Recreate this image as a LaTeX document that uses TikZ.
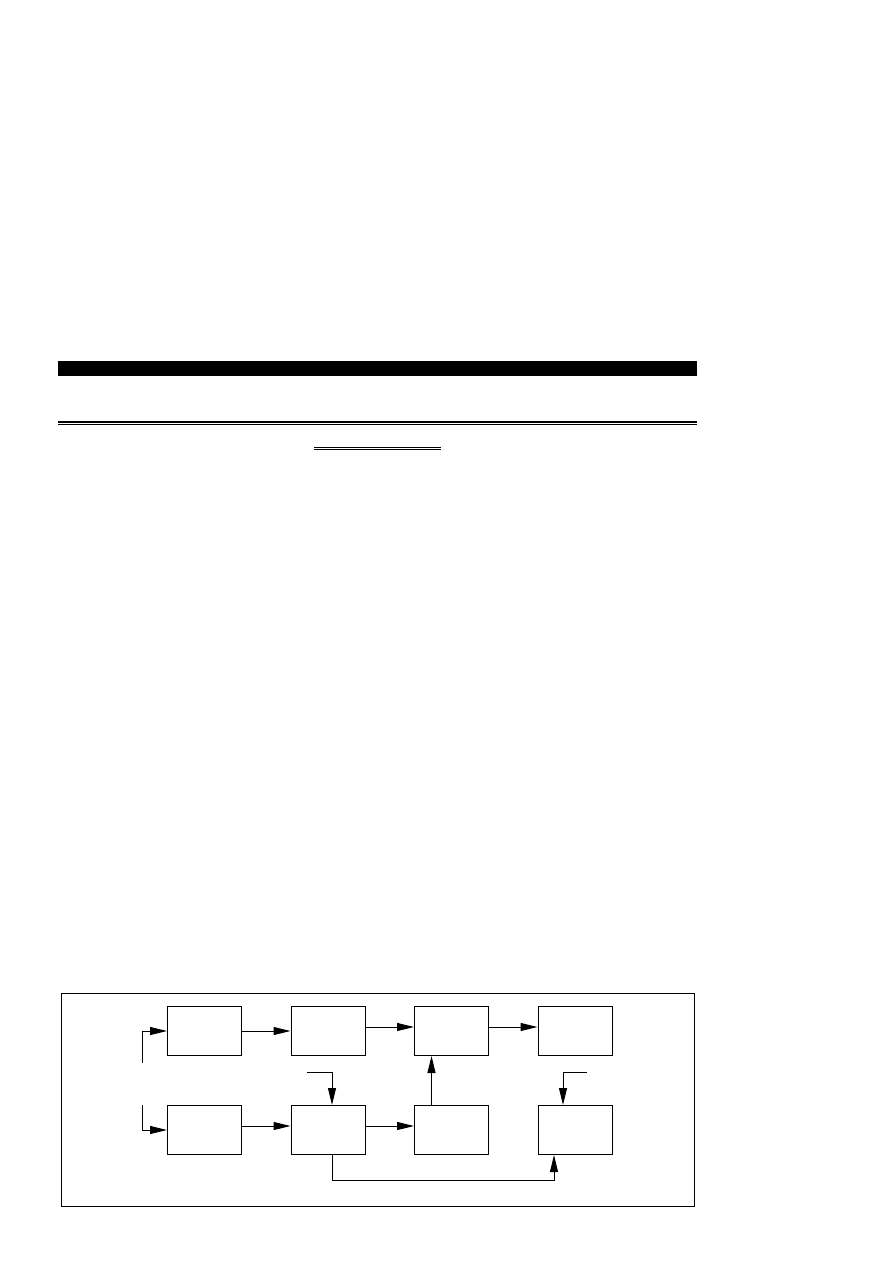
\documentclass[tikz,border=0pt]{standalone}
\usepackage{tikz}
\usetikzlibrary{arrows.meta}

\tikzset{
  blockbox/.style={draw, line width=1pt, minimum width=74pt, minimum height=49pt, inner sep=0pt},
  sig/.style={line width=1pt, -{Triangle[length=17pt, width=8pt]}},
  wire/.style={line width=1pt}
}

\begin{document}
\begin{tikzpicture}[x=1pt, y=-1pt]
  \useasboundingbox (0, 0) rectangle (893, 1262);

  % Heading rules
  \fill[black] (58, 361) rectangle (696.5, 375.7);
  \draw[line width=1.5pt] (58, 422) -- (696.5, 422);
  \draw[line width=0.8pt] (58, 424) -- (696.5, 424);
  \draw[line width=1.3pt] (314, 447.3) -- (440.7, 447.3);
  \draw[line width=0.7pt] (314, 449) -- (440.7, 449);

  % Frame
  \draw[line width=1pt] (61, 993) rectangle (694, 1206);

  % Row 1 (top)
  \node[blockbox] (stageA) at (204.5, 1031) {};
  \node[blockbox] (stageB) at (328, 1031) {};
  \node[blockbox] (stageC) at (451.5, 1031) {};
  \node[blockbox] (stageD) at (575, 1031) {};
  % Row 2 (bottom)
  \node[blockbox] (lowA) at (204.5, 1130) {};
  \node[blockbox] (lowB) at (328, 1130) {};
  \node[blockbox] (lowC) at (451.5, 1130) {};
  \node[blockbox] (lowD) at (575, 1130) {};

  % Free ends
  \coordinate (inTop) at (142, 1063);
  \coordinate (inLow) at (142, 1105);
  \coordinate (inB) at (307, 1072);
  \coordinate (inD) at (587, 1072);

  % Inputs
  \draw[sig] (inTop) |- (stageA.west);
  \draw[sig] (inLow) |- (lowA.west);
  \draw[sig] (inB) -| ([xshift=4pt]lowB.north);
  \draw[sig] (inD) -| ([xshift=-12pt]lowD.north);

  % Row 1 flow
  \draw[sig] (stageA.east) -- (stageB.west);
  \draw[sig] ([yshift=4pt]stageB.east) -- ([yshift=4pt]stageC.west);
  \draw[sig] ([yshift=4pt]stageC.east) -- ([yshift=4pt]stageD.west);
  % Row 2 flow
  \draw[sig] ([yshift=4pt]lowA.east) -- ([yshift=4pt]lowB.west);
  \draw[sig] ([yshift=4pt]lowB.east) -- ([yshift=4pt]lowC.west);
  \draw[sig] ([xshift=-20pt]lowC.north) -- ([xshift=-20pt]stageC.south);
  \draw[sig] ([xshift=4pt]lowB.south) -- ++(0, 25) -| ([xshift=-21pt]lowD.south);
\end{tikzpicture}
\end{document}
